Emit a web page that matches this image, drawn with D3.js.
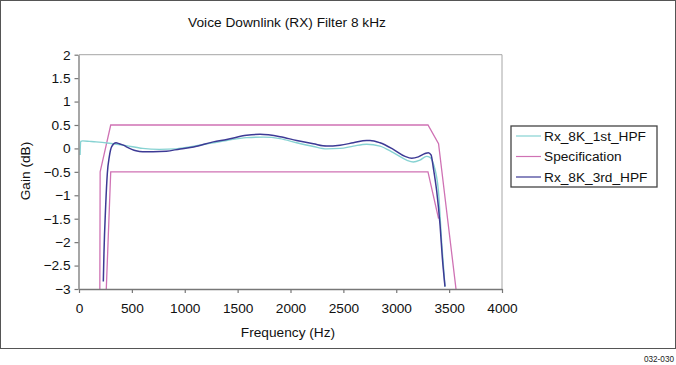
<!DOCTYPE html>
<html><head><meta charset="utf-8">
<script src="https://cdn.jsdelivr.net/npm/d3@7"></script>
<style>
html,body{margin:0;padding:0;background:#fff;}
svg{display:block;font-family:"Liberation Sans",Arial,sans-serif;}
</style></head>
<body>
<svg id="c" width="676" height="365"></svg>
<script>
const titleText = "Voice Downlink (RX) Filter 8 kHz";
const xTitle = "Frequency (Hz)";
const yTitle = "Gain (dB)";
const figId = "032-030";
const xTicks = [0, 500, 1000, 1500, 2000, 2500, 3000, 3500, 4000];
const yTicks = [-3, -2.5, -2, -1.5, -1, -0.5, 0, 0.5, 1, 1.5, 2];
const seriesNames = ["Rx_8K_1st_HPF", "Specification", "Rx_8K_3rd_HPF"];

const firstFreq = [10, 16, 35, 100, 161, 287, 444, 602, 760, 917, 1012, 1270, 1397, 1585, 1743, 1901, 2058, 2216, 2342, 2468, 2594, 2720, 2846, 2972, 3098, 3161, 3224, 3287, 3319, 3350, 3398, 3430, 3461];
const firstGain = [-0.14, 0.15, 0.16, 0.15, 0.14, 0.11, 0.06, 0.0, -0.02, -0.01, 0.02, 0.12, 0.17, 0.23, 0.24, 0.21, 0.12, 0.04, -0.01, 0.0, 0.05, 0.09, 0.05, -0.09, -0.25, -0.29, -0.25, -0.17, -0.19, -0.32, -0.89, -2.02, -2.95];

const thirdFreq = [230, 236, 252, 268, 287, 309, 350, 381, 419, 444, 539, 602, 700, 826, 955, 1084, 1270, 1397, 1585, 1712, 1901, 2058, 2216, 2342, 2468, 2594, 2720, 2752, 2846, 2972, 3083, 3146, 3209, 3272, 3303, 3329, 3351, 3383, 3414, 3436, 3461];
const thirdGain = [-2.84, -2.24, -1.24, -0.53, -0.17, 0.04, 0.12, 0.10, 0.07, 0.04, -0.05, -0.07, -0.07, -0.06, -0.01, 0.03, 0.14, 0.19, 0.28, 0.30, 0.25, 0.17, 0.10, 0.05, 0.07, 0.12, 0.17, 0.17, 0.12, -0.02, -0.17, -0.21, -0.18, -0.11, -0.09, -0.14, -0.42, -0.92, -1.63, -2.34, -2.95];

const specUpperFreq = [197, 200, 300, 3300, 3400, 3565];
const specUpperGain = [-3, -0.5, 0.5, 0.5, 0.1, -3];
const specLowerFreq = [258, 300, 3300, 3400];
const specLowerGain = [-3, -0.5, -0.5, -1.5];

const colors = {first: "#86d2d2", spec: "#cf72b4", third: "#3d3a95"};

const svg = d3.select("#c");
const FS = 13.7;
const x = d3.scaleLinear().domain([0, 4000]).range([79, 502]);
const y = d3.scaleLinear().domain([-3, 2]).range([289, 54.7]);

// outer frame
svg.append("rect").attr("x", 0.5).attr("y", 0.5).attr("width", 675).attr("height", 348)
  .attr("fill", "none").attr("stroke", "#555").attr("stroke-width", 1);

// plot area border (top/right)
svg.append("path")
  .attr("d", `M${x(0)},${y(2)}H${x(4000)}V${y(-3)}`)
  .attr("fill", "none").attr("stroke", "#a6a6a6").attr("stroke-width", 1);

const fmt = d => String(d).replace("-", "\u2212");

// clip
svg.append("defs").append("clipPath").attr("id", "pc").append("rect")
  .attr("x", x(0)).attr("y", y(2)).attr("width", x(4000) - x(0)).attr("height", y(-3) - y(2) + 1);

const line = d3.line().x(d => x(d[0])).y(d => y(d[1]));
const smooth = d3.line().x(d => x(d[0])).y(d => y(d[1])).curve(d3.curveMonotoneX);
const plot = svg.append("g").attr("clip-path", "url(#pc)");

plot.append("path").datum(d3.zip(specUpperFreq, specUpperGain)).attr("d", line)
  .attr("fill", "none").attr("stroke", colors.spec).attr("stroke-width", 1.3);
plot.append("path").datum(d3.zip(specLowerFreq, specLowerGain)).attr("d", line)
  .attr("fill", "none").attr("stroke", colors.spec).attr("stroke-width", 1.3);
plot.append("path").datum(d3.zip(firstFreq, firstGain)).attr("d", smooth)
  .attr("fill", "none").attr("stroke", colors.first).attr("stroke-width", 1.4);
plot.append("path").datum(d3.zip(thirdFreq, thirdGain)).attr("d", smooth)
  .attr("fill", "none").attr("stroke", colors.third).attr("stroke-width", 1.5);

const xa = svg.append("g").attr("transform", `translate(0,${y(-3)})`)
  .call(d3.axisBottom(x).tickValues(xTicks).tickSize(4).tickSizeOuter(0).tickPadding(10).tickFormat(fmt));
const ya = svg.append("g").attr("transform", `translate(${x(0) - 0.5},0)`)
  .call(d3.axisLeft(y).tickValues(yTicks).tickSize(4).tickSizeOuter(0).tickPadding(4).tickFormat(fmt));
[xa, ya].forEach(g => {
  g.selectAll("path.domain").attr("stroke", "#777").attr("stroke-width", 1.3);
  g.selectAll("line").attr("stroke", "#777").attr("stroke-width", 1.2);
  g.selectAll("text").attr("font-size", FS).attr("fill", "#111")
   .attr("font-family", "Liberation Sans, Arial, sans-serif");
});

// titles
svg.append("text").attr("x", 287).attr("y", 27).attr("text-anchor", "middle")
  .attr("font-size", FS).attr("fill", "#111").text(titleText);
svg.append("text").attr("x", 288).attr("y", 337).attr("text-anchor", "middle")
  .attr("font-size", FS).attr("fill", "#111").text(xTitle);
svg.append("text").attr("transform", "translate(30,171) rotate(-90)").attr("text-anchor", "middle")
  .attr("font-size", FS).attr("fill", "#111").text(yTitle);

// legend
const lg = svg.append("g");
lg.append("rect").attr("x", 511).attr("y", 126).attr("width", 146).attr("height", 61)
  .attr("fill", "#fff").attr("stroke", "#444").attr("stroke-width", 1.3);
const legColors = [colors.first, colors.spec, colors.third];
const legY = [136, 156.5, 177];
seriesNames.forEach((n, i) => {
  lg.append("line").attr("x1", 516).attr("x2", 541).attr("y1", legY[i]).attr("y2", legY[i])
    .attr("stroke", legColors[i]).attr("stroke-width", 1.2);
  lg.append("text").attr("x", 544).attr("y", legY[i]).attr("dy", "0.35em")
    .attr("font-size", FS).attr("fill", "#111").text(n);
});

svg.append("text").attr("x", 674).attr("y", 362).attr("text-anchor", "end")
  .attr("font-size", 8.2).attr("fill", "#222").text(figId);
</script>
</body></html>
